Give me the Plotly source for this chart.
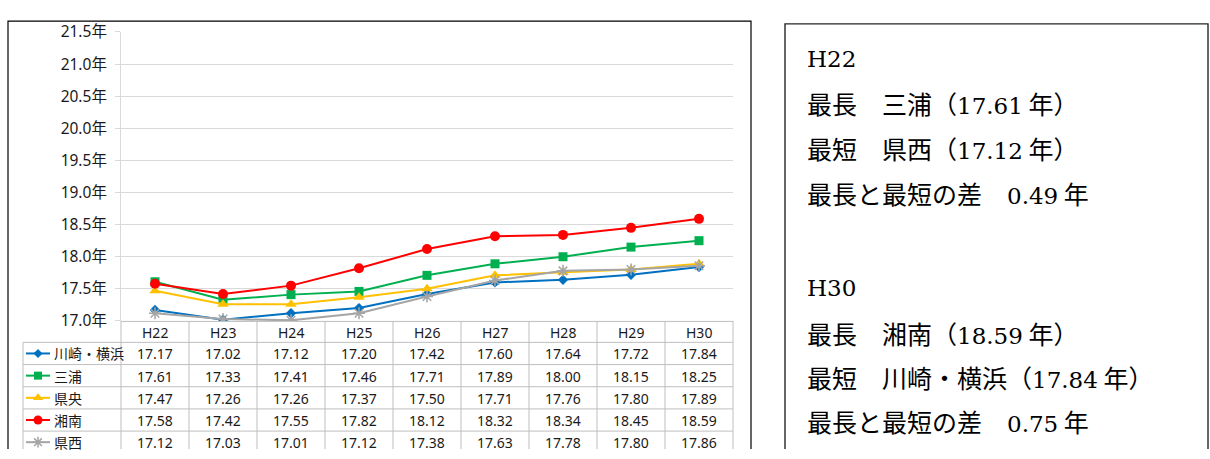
import plotly.graph_objects as go

# ---- data -------------------------------------------------------------
categories = ["H22", "H23", "H24", "H25", "H26", "H27", "H28", "H29", "H30"]
series_names = ["川崎・横浜", "三浦", "県央", "湘南", "県西"]
kawasaki_yokohama = [17.17, 17.02, 17.12, 17.20, 17.42, 17.60, 17.64, 17.72, 17.84]
miura = [17.61, 17.33, 17.41, 17.46, 17.71, 17.89, 18.00, 18.15, 18.25]
kenou = [17.47, 17.26, 17.26, 17.37, 17.50, 17.71, 17.76, 17.80, 17.89]
shonan = [17.58, 17.42, 17.55, 17.82, 18.12, 18.32, 18.34, 18.45, 18.59]
kensei = [17.12, 17.03, 17.01, 17.12, 17.38, 17.63, 17.78, 17.80, 17.86]
y_ticks = [17.0, 17.5, 18.0, 18.5, 19.0, 19.5, 20.0, 20.5, 21.0, 21.5]
y_tick_labels = [f"{v:.1f}年" for v in y_ticks]
summary_years = ["H22", "H30"]

series_values = [kawasaki_yokohama, miura, kenou, shonan, kensei]

# ---- styles -----------------------------------------------------------
styles = [
    dict(color="#0070C0", symbol="diamond", size=8),
    dict(color="#00B050", symbol="square", size=9),
    dict(color="#FFC000", symbol="triangle-up", size=10),
    dict(color="#FF0000", symbol="circle", size=10),
    dict(color="#A5A5A5", symbol="asterisk-open", size=10),
]

W, H = 1210, 459
PLOT_L, PLOT_R, PLOT_T, PLOT_B = 121, 733, 21, 324.5
ROW_H = 23.3
HEAD_B = 347
LEG_L = 23
GRID = "#D9D9D9"
TABLE_LINE = "#BFBFBF"
TXT = "#1A1A1A"
SANS = "Noto Sans, Noto Sans CJK JP, sans-serif"
CJK = "Noto Sans CJK JP, sans-serif"


def latin(s):
    """Wrap Latin digits/letters in a serif span."""
    return f'<span style="font-family:DejaVu Serif;font-size:23px">{s}</span>'


fig = go.Figure()

# main lines
for name, vals, st in zip(series_names, series_values, styles):
    marker = dict(color=st["color"], symbol=st["symbol"], size=st["size"])
    if st["symbol"].endswith("open"):
        marker["line"] = dict(color=st["color"], width=1.5)
    fig.add_trace(go.Scatter(
        x=list(range(len(categories))), y=vals, name=name,
        mode="lines+markers", line=dict(color=st["color"], width=2),
        marker=marker, xaxis="x", yaxis="y", showlegend=False,
    ))

ncol = len(categories)
col_w = (PLOT_R - PLOT_L) / ncol

# legend samples in the data table (pixel-space overlay axes)
for i, st in enumerate(styles):
    cy = HEAD_B + ROW_H * (i + 0.5)
    marker = dict(color=st["color"], symbol=st["symbol"], size=st["size"] - 1)
    if st["symbol"].endswith("open"):
        marker["line"] = dict(color=st["color"], width=1.5)
    fig.add_trace(go.Scatter(
        x=[26, 38, 50], y=[cy, cy, cy], mode="lines",
        line=dict(color=st["color"], width=2),
        xaxis="x2", yaxis="y2", showlegend=False, hoverinfo="skip",
    ))
    fig.add_trace(go.Scatter(
        x=[38], y=[cy], mode="markers", marker=marker,
        xaxis="x2", yaxis="y2", showlegend=False, hoverinfo="skip",
    ))

shapes = []
annotations = []

# outer frames
shapes.append(dict(type="rect", xref="x2", yref="y2", x0=8, y0=9.5, x1=751, y1=480,
                   line=dict(color="#000000", width=1.2)))
shapes.append(dict(type="rect", xref="x2", yref="y2", x0=785, y0=12.5, x1=1208, y1=480,
                   line=dict(color="#262626", width=1.4)))

# table grid
bottom = HEAD_B + ROW_H * len(series_names)
shapes.append(dict(type="line", xref="x2", yref="y2", x0=PLOT_L, x1=PLOT_R,
                   y0=PLOT_B + 0.5, y1=PLOT_B + 0.5, line=dict(color=TABLE_LINE, width=1)))
for r in range(len(series_names) + 1):
    y = HEAD_B + ROW_H * r
    shapes.append(dict(type="line", xref="x2", yref="y2", x0=LEG_L, x1=PLOT_R,
                       y0=y, y1=y, line=dict(color=TABLE_LINE, width=1)))
shapes.append(dict(type="line", xref="x2", yref="y2", x0=LEG_L, x1=LEG_L,
                   y0=HEAD_B, y1=bottom, line=dict(color=TABLE_LINE, width=1)))
for c in range(ncol + 1):
    x = PLOT_L + col_w * c
    shapes.append(dict(type="line", xref="x2", yref="y2", x0=x, x1=x,
                       y0=PLOT_B, y1=bottom, line=dict(color=TABLE_LINE, width=1)))

# table text
for c, cat in enumerate(categories):
    cx = PLOT_L + col_w * (c + 0.5)
    annotations.append(dict(xref="x2", yref="y2", x=cx, y=(PLOT_B + HEAD_B) / 2 + 1,
                            text=cat, showarrow=False, font=dict(family=SANS, size=14, color=TXT)))
    for r, vals in enumerate(series_values):
        cy = HEAD_B + ROW_H * (r + 0.5)
        annotations.append(dict(xref="x2", yref="y2", x=cx, y=cy + 0.5,
                                text=f"{vals[c]:.2f}", showarrow=False,
                                font=dict(family=SANS, size=14, color=TXT)))
for r, name in enumerate(series_names):
    cy = HEAD_B + ROW_H * (r + 0.5)
    annotations.append(dict(xref="x2", yref="y2", x=52, y=cy + 0.5, xanchor="left",
                            text=name, showarrow=False,
                            font=dict(family=SANS, size=14, color=TXT)))

# summary box text
line_y = [[49, 96, 143, 190], [290, 337, 383, 430]]
for k, year in enumerate(summary_years):
    idx = categories.index(year)
    col = [vals[idx] for vals in series_values]
    imax = max(range(len(col)), key=lambda i: col[i])
    imin = min(range(len(col)), key=lambda i: col[i])
    lines = [
        latin(year),
        f"最長　{series_names[imax]}（{latin(f'{col[imax]:.2f}')} 年）",
        f"最短　{series_names[imin]}（{latin(f'{col[imin]:.2f}')} 年）",
        f"最長と最短の差　{latin(f'{col[imax] - col[imin]:.2f}')} 年",
    ]
    for t, y in zip(lines, line_y[k]):
        annotations.append(dict(xref="x2", yref="y2", x=805, y=y, xanchor="left",
                                text=t, showarrow=False,
                                font=dict(family=CJK, size=25, color="#000000")))

fig.update_layout(
    width=W, height=H,
    margin=dict(l=0, r=0, t=0, b=0),
    paper_bgcolor="#FFFFFF",
    plot_bgcolor="rgba(0,0,0,0)",
    xaxis=dict(domain=[PLOT_L / W, PLOT_R / W], range=[-0.5, ncol - 0.5],
               showgrid=False, zeroline=False, showticklabels=False, showline=False,
               fixedrange=True),
    yaxis=dict(domain=[1 - PLOT_B / H, 1 - PLOT_T / H], range=[17.0, 21.5],
               tickvals=y_ticks, ticktext=y_tick_labels,
               showgrid=True, gridcolor=GRID, gridwidth=1, zeroline=False,
               showline=True, linecolor=GRID, linewidth=1,
               ticks="outside", ticklen=5, tickcolor=GRID, ticklabelstandoff=5,
               tickfont=dict(family=SANS, size=15.5, color=TXT), fixedrange=True),
    xaxis2=dict(domain=[0, 1], range=[0, W], visible=False, fixedrange=True),
    yaxis2=dict(domain=[0, 1], range=[H, 0], visible=False, fixedrange=True),
    shapes=shapes,
    annotations=annotations,
)

fig.write_html("out.html")
